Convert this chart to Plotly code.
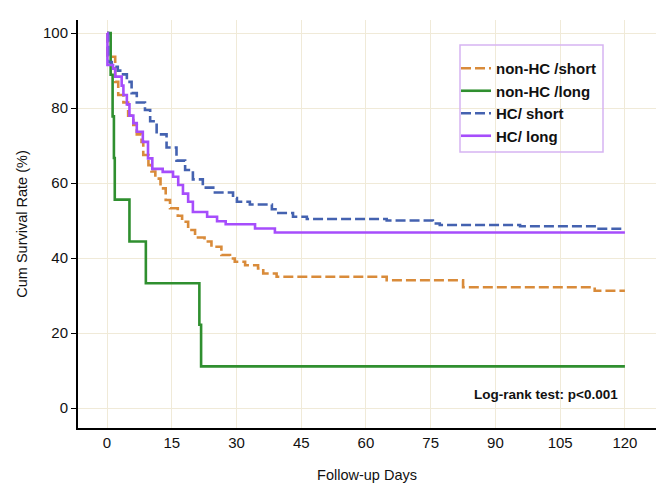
import plotly.graph_objects as go

# Kaplan-Meier step data (days, cumulative survival %)
nonhc_short_days = [0, 0.1, 1.9, 2.6, 3.8, 4.9, 6.1, 6.9, 8.0, 8.4, 9.6, 10.3, 11.2, 12.4, 13.6, 14.6,
                    16.4, 17.4, 18.8, 20.4, 22.6, 24.2, 26.5, 28.5, 29.6, 32.0, 35.0, 36.2, 39.3,
                    64.8, 82.5, 113.0, 120.0]
nonhc_short_surv = [100, 93.7, 87.0, 83.5, 81.5, 78.0, 75.5, 73.0, 71.0, 67.5, 64.8, 63.1, 61.2, 58.6,
                    55.5, 53.3, 51.3, 49.7, 47.5, 45.5, 44.4, 43.0, 40.8, 39.9, 39.0, 38.1, 37.2, 35.9,
                    35.0, 34.1, 32.2, 31.3, 31.3]

nonhc_long_days = [0, 0.85, 1.3, 1.6, 1.8, 5.2, 9.0, 21.4, 21.8, 120.0]
nonhc_long_surv = [100, 88.9, 77.8, 66.7, 55.6, 44.4, 33.3, 22.2, 11.1, 11.1]

hc_short_days = [0, 0.3, 1.1, 2.5, 3.4, 4.6, 5.7, 6.9, 8.8, 10.0, 11.5, 13.8, 16.1, 18.1, 19.9, 22.2,
                 25.0, 29.2, 30.1, 33.1, 38.2, 39.4, 43.1, 46.3, 64.8, 75.5, 77.1, 95.7, 113.4, 120.0]
hc_short_surv = [100, 92.3, 91.0, 90.0, 89.0, 87.0, 84.0, 81.5, 79.5, 76.5, 73.0, 69.5, 66.0, 63.5,
                 61.0, 58.8, 57.5, 56.0, 55.0, 54.3, 53.0, 52.0, 51.0, 50.4, 50.0, 49.2, 48.8, 48.5,
                 47.8, 47.8]

hc_long_days = [0, 0.1, 1.4, 1.9, 3.4, 3.8, 4.6, 5.2, 6.1, 6.9, 8.3, 9.5, 10.5, 12.9, 15.3, 16.5, 17.6,
                18.8, 19.9, 23.2, 25.5, 27.5, 34.3, 38.9, 120.0]
hc_long_surv = [100, 91.5, 90.5, 88.4, 86.0, 83.5, 81.0, 78.0, 76.0, 73.7, 71.0, 66.6, 63.8, 63.0, 61.7,
                59.5, 57.2, 55.0, 52.3, 51.0, 49.8, 49.0, 47.9, 46.8, 46.8]

series_names = ["non-HC /short", "non-HC /long", "HC/ short", "HC/ long"]
series_colors = ["#d98b3a", "#2f8f2f", "#4462b0", "#a64dfc"]

x_ticks = [0, 15, 30, 45, 60, 75, 90, 105, 120]
y_ticks = [0, 20, 40, 60, 80, 100]

data = [
    (nonhc_short_days, nonhc_short_surv, "10px,4px"),
    (nonhc_long_days, nonhc_long_surv, "solid"),
    (hc_short_days, hc_short_surv, "10px,4px"),
    (hc_long_days, hc_long_surv, "solid"),
]

W, H = 659, 485
ML, MR, MT, MB = 78, 3, 20, 57
PW, PH = W - ML - MR, H - MT - MB

def px_x(p):
    return (p - ML) / PW

def px_y(p):
    return (H - MB - p) / PH

fig = go.Figure()
for (xs, ys, dash), name, color in zip(data, series_names, series_colors):
    fig.add_trace(go.Scatter(
        x=xs, y=ys, mode="lines", name=name,
        line=dict(shape="hv", color=color, width=2.6, dash=dash),
    ))

grid = "#f0ead8"
fig.update_layout(
    width=W, height=H,
    margin=dict(l=ML, r=MR, t=MT, b=MB, autoexpand=False),
    paper_bgcolor="white", plot_bgcolor="white",
    font=dict(family="Liberation Sans, Arial, sans-serif", size=15, color="#111"),
    legend=dict(
        x=px_x(456), y=px_y(52), xanchor="left", yanchor="top",
        borderwidth=0, bgcolor="rgba(0,0,0,0)",
        font=dict(family="Liberation Sans, Arial, sans-serif", size=15, color="#111", weight="bold"),
        itemwidth=30,
    ),
    xaxis=dict(
        range=[-6.72, 127.2], tickvals=x_ticks, ticktext=[str(v) for v in x_ticks],
        showgrid=True, gridcolor=grid, gridwidth=1, zeroline=False,
        showline=True, linecolor="black", linewidth=2, ticks="",
        title=dict(text="Follow-up Days", standoff=20, font=dict(size=14.5)),
        automargin=False,
    ),
    yaxis=dict(
        range=[-5.33, 103.5], tickvals=y_ticks, ticktext=[str(v) for v in y_ticks],
        showgrid=True, gridcolor=grid, gridwidth=1, zeroline=False,
        showline=True, linecolor="black", linewidth=2, ticks="outside", ticklen=5,
        tickcolor="black", tickwidth=1,
        title=dict(text="Cum Survival Rate (%)", standoff=12, font=dict(size=14.5)),
        automargin=False,
    ),
    showlegend=True,
)

# legend frame
fig.add_shape(
    type="rect", xref="paper", yref="paper",
    x0=px_x(460), x1=px_x(603), y0=px_y(152), y1=px_y(45),
    line=dict(color="#d6b4f2", width=1.5), fillcolor="rgba(255,255,255,0)", layer="above",
)

fig.add_annotation(
    xref="x", yref="y", x=101.8, y=3.7, text="Log-rank test: p<0.001",
    showarrow=False, xanchor="center", yanchor="middle",
    font=dict(family="Liberation Sans, Arial, sans-serif", size=13.5, color="#111", weight="bold"),
)

fig.write_html(
    "out.html",
    config={"displayModeBar": False},
    post_script="document.body.style.margin='0';document.body.style.padding='0';",
)
